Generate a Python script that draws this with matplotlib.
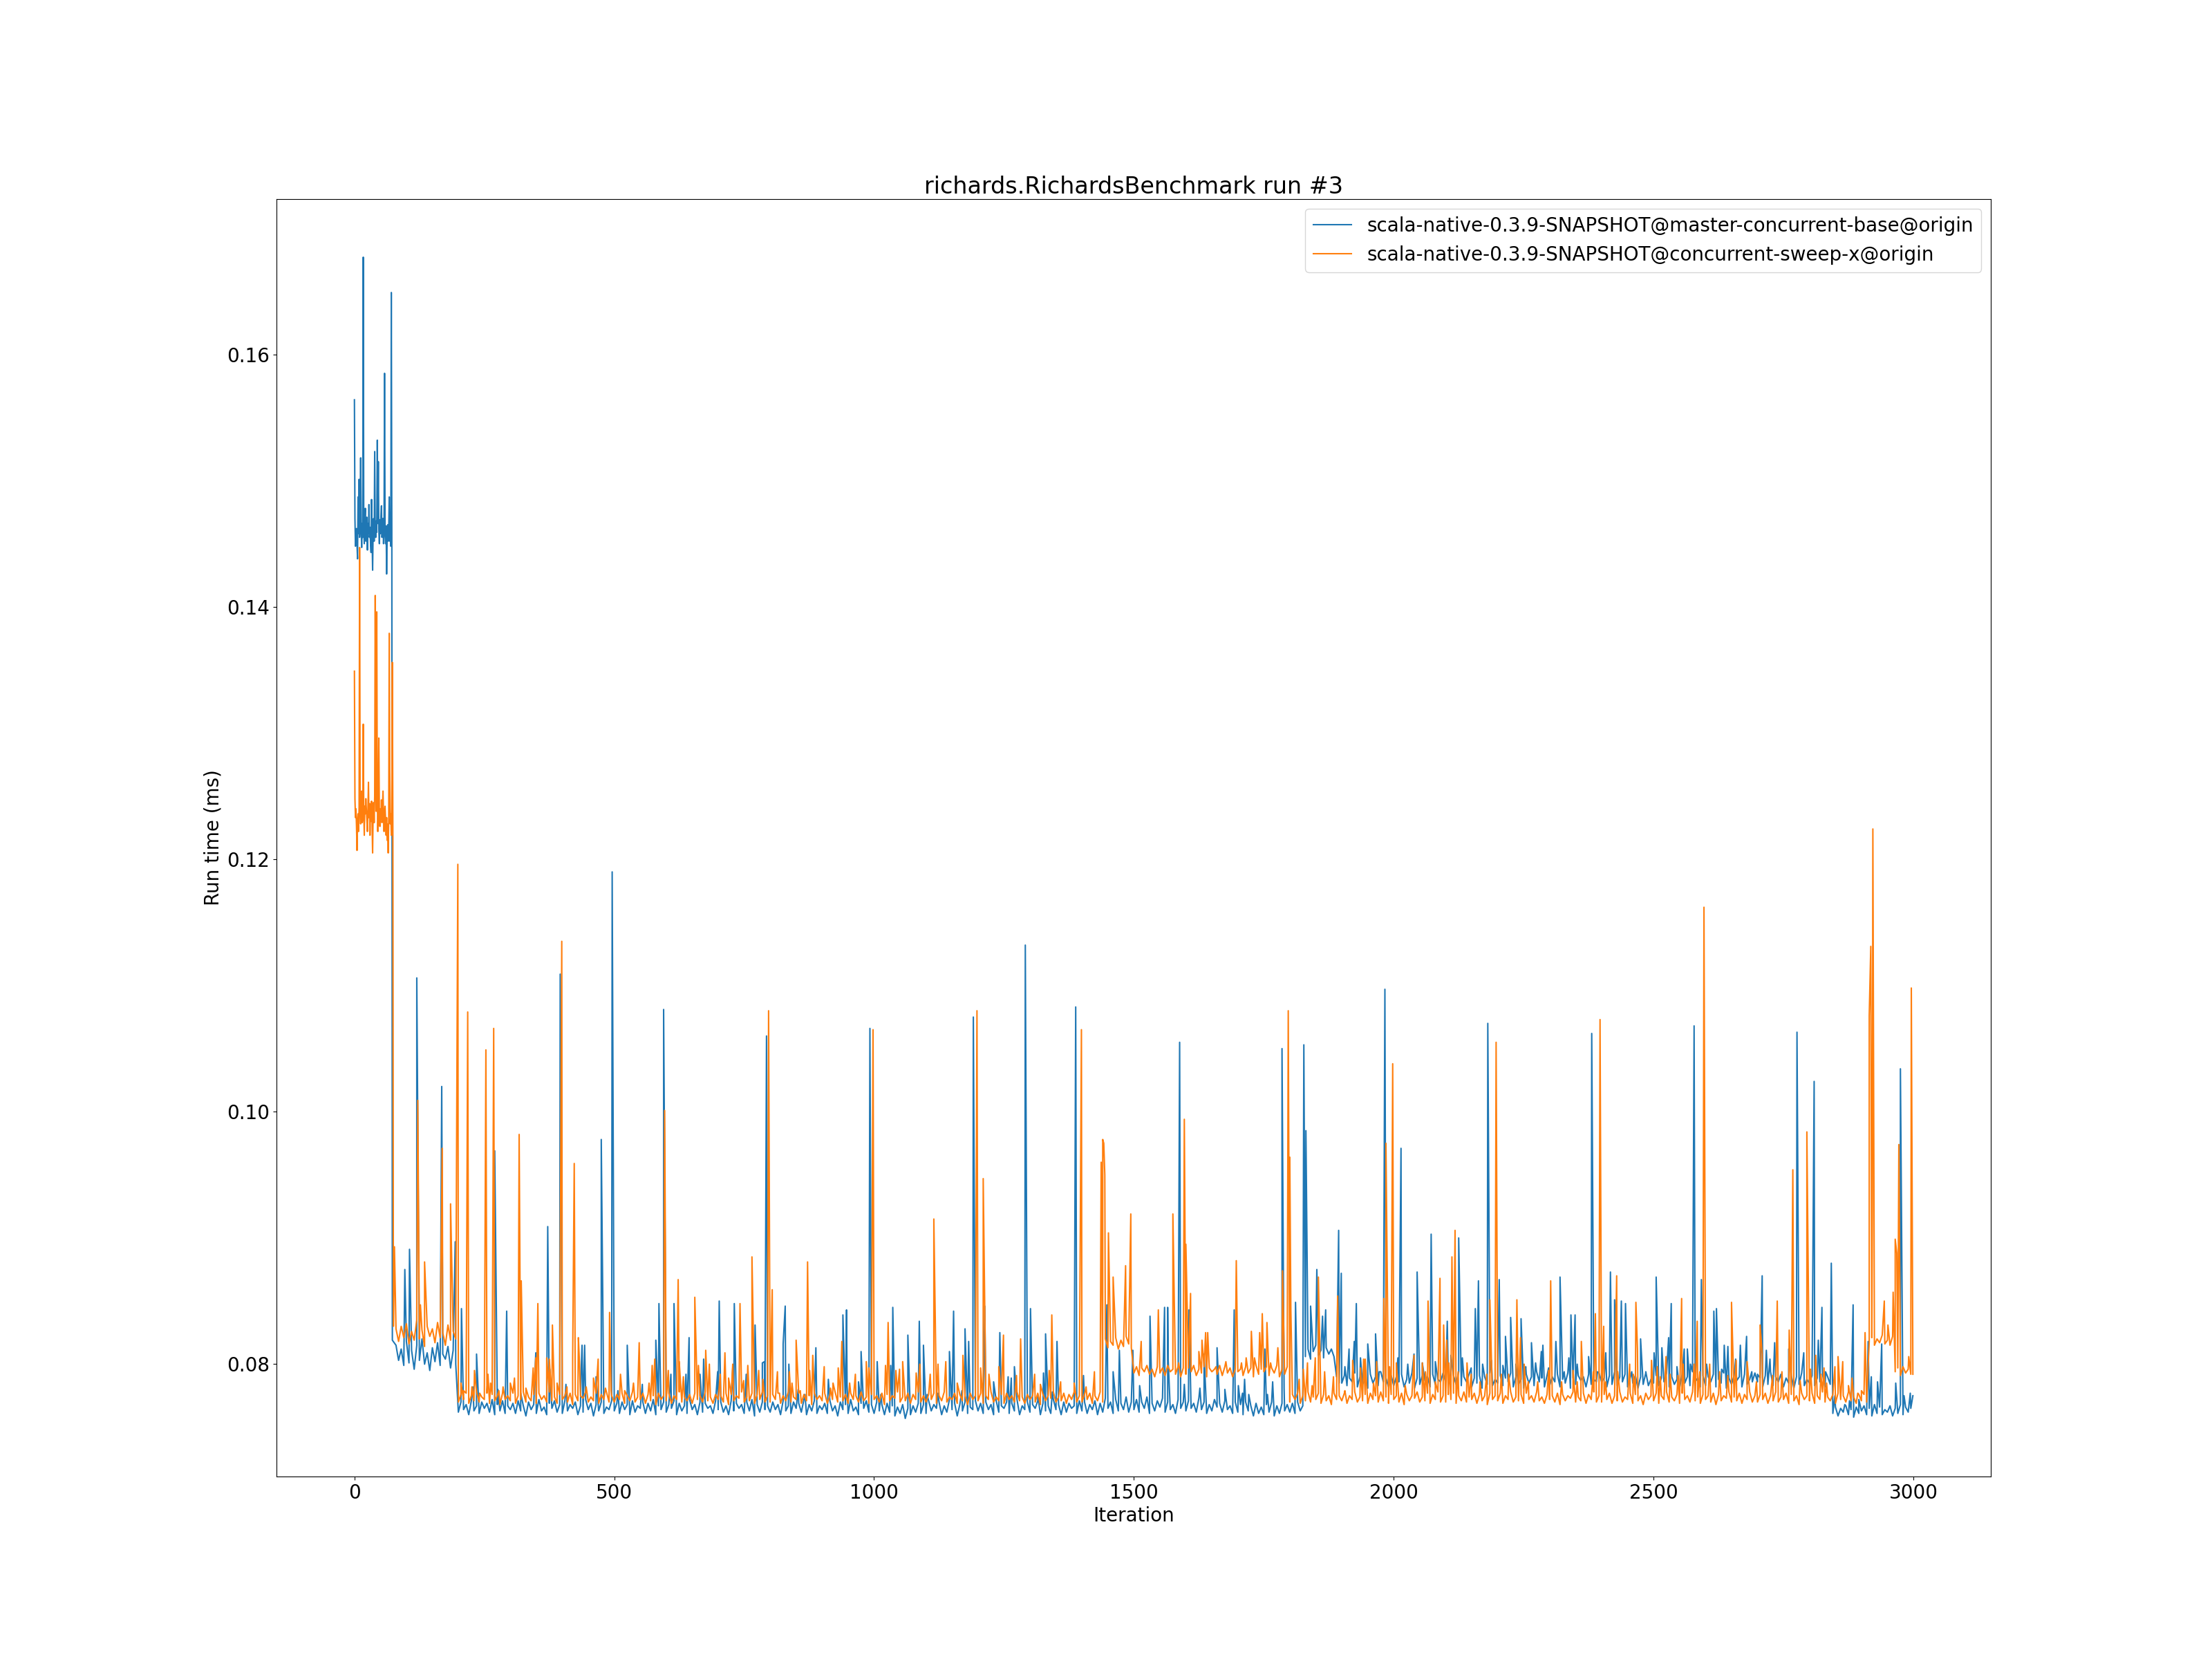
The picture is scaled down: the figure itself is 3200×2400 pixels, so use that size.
import numpy as np
import matplotlib
matplotlib.use("Agg")
import matplotlib.pyplot as plt


# ---- Data (run time in ms per iteration) ----

label_base = "scala-native-0.3.9-SNAPSHOT@master-concurrent-base@origin"
label_sweep = "scala-native-0.3.9-SNAPSHOT@concurrent-sweep-x@origin"

# warm-up phase, one value per iteration starting at 0
base_warm_ms = [
    0.1564, 0.1470, 0.1448, 0.1454, 0.1462, 0.1449, 0.1438, 0.1487, 0.1458, 0.1501,  # 0
    0.1455, 0.1470, 0.1518, 0.1462, 0.1447, 0.1466, 0.1455, 0.1677, 0.1460, 0.1450,  # 10
    0.1468, 0.1478, 0.1452, 0.1462, 0.1471, 0.1445, 0.1466, 0.1458, 0.1481, 0.1455,  # 20
    0.1463, 0.1450, 0.1443, 0.1485, 0.1457, 0.1429, 0.1460, 0.1470, 0.1452, 0.1523,  # 30
    0.1463, 0.1455, 0.1468, 0.1459, 0.1532, 0.1466, 0.1515, 0.1461, 0.1450, 0.1469,  # 40
    0.1458, 0.1472, 0.1480, 0.1455, 0.1462, 0.1470, 0.1450, 0.1462, 0.1585, 0.1458,  # 50
    0.1450, 0.1464, 0.1426, 0.1455, 0.1465, 0.1452, 0.1460, 0.1487, 0.1452, 0.1466,  # 60
    0.1448, 0.1649, 0.1458, 0.0819,                                                  # 70
]
sweep_warm_ms = [
    0.1349, 0.1248, 0.1233, 0.1240, 0.1226, 0.1207, 0.1231, 0.1236, 0.1222, 0.1241,  # 0
    0.1447, 0.1238, 0.1228, 0.1245, 0.1254, 0.1229, 0.1232, 0.1307, 0.1236, 0.1219,  # 10
    0.1242, 0.1236, 0.1248, 0.1240, 0.1231, 0.1222, 0.1239, 0.1261, 0.1233, 0.1244,  # 20
    0.1219, 0.1244, 0.1230, 0.1246, 0.1228, 0.1205, 0.1237, 0.1245, 0.1229, 0.1250,  # 30
    0.1409, 0.1293, 0.1238, 0.1396, 0.1250, 0.1222, 0.1243, 0.1296, 0.1235, 0.1226,  # 40
    0.1240, 0.1232, 0.1247, 0.1229, 0.1242, 0.1254, 0.1236, 0.1222, 0.1238, 0.1242,  # 50
    0.1230, 0.1219, 0.1233, 0.1215, 0.1228, 0.1205, 0.1231, 0.1379, 0.1270, 0.1228,  # 60
    0.1236, 0.1219, 0.1240, 0.1356, 0.1219, 0.0830,                                  # 70
]

# steady phase, one reading every 5 iterations starting at 80
steady_start = 80
steady_step = 5

base_steady_ms = [
    0.0815, 0.0803, 0.0812, 0.0799,
    0.0818, 0.0801, 0.0811, 0.0796, 0.0815, 0.0803, 0.0820, 0.0800, 0.0809, 0.0795,
    0.0813, 0.0802, 0.0817, 0.0799, 0.0808, 0.0804, 0.0814, 0.0797, 0.0811, 0.0800,  # 100
    0.0762, 0.0770, 0.0764, 0.0768, 0.0760, 0.0771, 0.0763, 0.0767, 0.0761, 0.0770,
    0.0765, 0.0769, 0.0762, 0.0772, 0.0760, 0.0768, 0.0763, 0.0771, 0.0761, 0.0767,  # 200
    0.0764, 0.0769, 0.0761, 0.0771, 0.0763, 0.0767, 0.0759, 0.0770, 0.0764, 0.0768,
    0.0761, 0.0772, 0.0763, 0.0766, 0.0760, 0.0769, 0.0765, 0.0771, 0.0762, 0.0768,  # 300
    0.0761, 0.0771, 0.0763, 0.0768, 0.0765, 0.0770, 0.0760, 0.0767, 0.0762, 0.0772,
    0.0764, 0.0769, 0.0759, 0.0768, 0.0763, 0.0770, 0.0761, 0.0766, 0.0764, 0.0771,  # 400
    0.0763, 0.0769, 0.0761, 0.0770, 0.0764, 0.0768, 0.0760, 0.0771, 0.0762, 0.0767,
    0.0765, 0.0770, 0.0761, 0.0769, 0.0763, 0.0772, 0.0760, 0.0767, 0.0764, 0.0770,  # 500
    0.0762, 0.0768, 0.0765, 0.0771, 0.0760, 0.0769, 0.0763, 0.0767, 0.0761, 0.0772,
    0.0764, 0.0768, 0.0760, 0.0770, 0.0762, 0.0769, 0.0765, 0.0767, 0.0761, 0.0771,  # 600
    0.0764, 0.0770, 0.0762, 0.0767, 0.0760, 0.0771, 0.0763, 0.0769, 0.0765, 0.0768,
    0.0761, 0.0770, 0.0763, 0.0772, 0.0759, 0.0768, 0.0762, 0.0770, 0.0764, 0.0767,  # 700
    0.0762, 0.0770, 0.0764, 0.0768, 0.0760, 0.0771, 0.0763, 0.0767, 0.0761, 0.0770,
    0.0765, 0.0769, 0.0762, 0.0772, 0.0760, 0.0768, 0.0763, 0.0771, 0.0761, 0.0767,  # 800
    0.0764, 0.0769, 0.0761, 0.0771, 0.0763, 0.0767, 0.0759, 0.0770, 0.0764, 0.0768,
    0.0761, 0.0772, 0.0763, 0.0766, 0.0760, 0.0769, 0.0765, 0.0771, 0.0762, 0.0768,  # 900
    0.0761, 0.0770, 0.0763, 0.0768, 0.0760, 0.0769, 0.0762, 0.0767, 0.0759, 0.0766,
    0.0761, 0.0768, 0.0757, 0.0765, 0.0760, 0.0767, 0.0762, 0.0769, 0.0761, 0.0768,  # 1000
    0.0761, 0.0771, 0.0763, 0.0768, 0.0765, 0.0770, 0.0760, 0.0767, 0.0762, 0.0772,
    0.0764, 0.0769, 0.0759, 0.0768, 0.0763, 0.0770, 0.0761, 0.0766, 0.0764, 0.0771,  # 1100
    0.0763, 0.0769, 0.0761, 0.0770, 0.0764, 0.0768, 0.0760, 0.0771, 0.0762, 0.0767,
    0.0765, 0.0770, 0.0761, 0.0769, 0.0763, 0.0772, 0.0760, 0.0767, 0.0764, 0.0770,  # 1200
    0.0762, 0.0768, 0.0765, 0.0771, 0.0760, 0.0769, 0.0763, 0.0767, 0.0761, 0.0772,
    0.0764, 0.0768, 0.0760, 0.0770, 0.0762, 0.0769, 0.0765, 0.0767, 0.0761, 0.0771,  # 1300
    0.0763, 0.0770, 0.0761, 0.0768, 0.0764, 0.0771, 0.0760, 0.0769, 0.0762, 0.0773,
    0.0765, 0.0770, 0.0761, 0.0772, 0.0763, 0.0769, 0.0764, 0.0774, 0.0762, 0.0770,  # 1400
    0.0764, 0.0772, 0.0762, 0.0770, 0.0765, 0.0774, 0.0761, 0.0769, 0.0763, 0.0771,
    0.0766, 0.0773, 0.0762, 0.0770, 0.0764, 0.0768, 0.0761, 0.0772, 0.0765, 0.0770,  # 1500
    0.0763, 0.0771, 0.0765, 0.0769, 0.0762, 0.0773, 0.0764, 0.0770, 0.0761, 0.0768,
    0.0763, 0.0772, 0.0766, 0.0769, 0.0762, 0.0771, 0.0764, 0.0767, 0.0761, 0.0770,  # 1600
    0.0762, 0.0768, 0.0760, 0.0770, 0.0763, 0.0767, 0.0759, 0.0769, 0.0761, 0.0766,
    0.0760, 0.0768, 0.0762, 0.0770, 0.0759, 0.0767, 0.0761, 0.0769, 0.0763, 0.0768,  # 1700
    0.0762, 0.0769, 0.0761, 0.0770, 0.0763, 0.0767, 0.0806, 0.0812, 0.0804, 0.0810,
    0.0815, 0.0807, 0.0811, 0.0805, 0.0813, 0.0808, 0.0812, 0.0806, 0.0790, 0.0785,  # 1800
    0.0785, 0.0791, 0.0783, 0.0789, 0.0786, 0.0793, 0.0782, 0.0790, 0.0784, 0.0788,
    0.0781, 0.0792, 0.0785, 0.0790, 0.0783, 0.0794, 0.0786, 0.0789, 0.0782, 0.0791,  # 1900
    0.0783, 0.0790, 0.0786, 0.0792, 0.0782, 0.0788, 0.0785, 0.0793, 0.0781, 0.0789,
    0.0784, 0.0791, 0.0787, 0.0790, 0.0782, 0.0792, 0.0784, 0.0788, 0.0786, 0.0793,  # 2000
    0.0786, 0.0789, 0.0782, 0.0791, 0.0784, 0.0794, 0.0783, 0.0790, 0.0786, 0.0792,
    0.0782, 0.0789, 0.0785, 0.0791, 0.0781, 0.0790, 0.0784, 0.0793, 0.0783, 0.0788,  # 2100
    0.0785, 0.0791, 0.0783, 0.0789, 0.0786, 0.0793, 0.0782, 0.0790, 0.0784, 0.0788,
    0.0781, 0.0792, 0.0785, 0.0790, 0.0783, 0.0794, 0.0786, 0.0789, 0.0782, 0.0791,  # 2200
    0.0783, 0.0790, 0.0786, 0.0792, 0.0782, 0.0788, 0.0785, 0.0793, 0.0781, 0.0789,
    0.0784, 0.0791, 0.0787, 0.0790, 0.0782, 0.0792, 0.0784, 0.0788, 0.0786, 0.0793,  # 2300
    0.0786, 0.0789, 0.0782, 0.0791, 0.0784, 0.0794, 0.0783, 0.0790, 0.0786, 0.0792,
    0.0782, 0.0789, 0.0785, 0.0791, 0.0781, 0.0790, 0.0784, 0.0793, 0.0783, 0.0788,  # 2400
    0.0785, 0.0791, 0.0783, 0.0789, 0.0786, 0.0793, 0.0782, 0.0790, 0.0784, 0.0788,
    0.0781, 0.0792, 0.0785, 0.0790, 0.0783, 0.0794, 0.0786, 0.0789, 0.0782, 0.0791,  # 2500
    0.0783, 0.0790, 0.0786, 0.0792, 0.0782, 0.0788, 0.0785, 0.0793, 0.0781, 0.0789,
    0.0784, 0.0791, 0.0787, 0.0790, 0.0782, 0.0792, 0.0784, 0.0788, 0.0786, 0.0793,  # 2600
    0.0786, 0.0789, 0.0782, 0.0791, 0.0784, 0.0794, 0.0783, 0.0790, 0.0786, 0.0792,
    0.0782, 0.0789, 0.0785, 0.0791, 0.0781, 0.0790, 0.0784, 0.0793, 0.0783, 0.0788,  # 2700
    0.0785, 0.0791, 0.0783, 0.0789, 0.0786, 0.0792, 0.0782, 0.0790, 0.0784, 0.0761,
    0.0766, 0.0759, 0.0765, 0.0762, 0.0767, 0.0760, 0.0764, 0.0758, 0.0766, 0.0761,  # 2800
    0.0763, 0.0767, 0.0760, 0.0765, 0.0759, 0.0768, 0.0761, 0.0766, 0.0760, 0.0764,
    0.0762, 0.0767, 0.0759, 0.0765, 0.0761, 0.0768, 0.0760, 0.0766, 0.0762, 0.0765,  # 2900
]

sweep_steady_ms = [
    0.0828, 0.0818, 0.0830, 0.0821,
    0.0832, 0.0816, 0.0826, 0.0819, 0.0835, 0.0820, 0.0827, 0.0814, 0.0830, 0.0822,
    0.0828, 0.0817, 0.0833, 0.0821, 0.0825, 0.0815, 0.0831, 0.0819, 0.0826, 0.0820,  # 100
    0.0770, 0.0776, 0.0772, 0.0777, 0.0769, 0.0775, 0.0771, 0.0778, 0.0770, 0.0774,
    0.0772, 0.0777, 0.0769, 0.0776, 0.0771, 0.0775, 0.0768, 0.0777, 0.0772, 0.0775,  # 200
    0.0771, 0.0777, 0.0769, 0.0775, 0.0772, 0.0778, 0.0770, 0.0774, 0.0771, 0.0776,
    0.0769, 0.0777, 0.0772, 0.0775, 0.0770, 0.0778, 0.0771, 0.0774, 0.0769, 0.0776,  # 300
    0.0772, 0.0775, 0.0770, 0.0777, 0.0768, 0.0776, 0.0771, 0.0775, 0.0773, 0.0778,
    0.0770, 0.0774, 0.0771, 0.0777, 0.0769, 0.0776, 0.0772, 0.0778, 0.0770, 0.0775,  # 400
    0.0770, 0.0776, 0.0772, 0.0777, 0.0769, 0.0775, 0.0771, 0.0778, 0.0770, 0.0774,
    0.0772, 0.0777, 0.0769, 0.0776, 0.0771, 0.0775, 0.0768, 0.0777, 0.0772, 0.0775,  # 500
    0.0771, 0.0777, 0.0769, 0.0775, 0.0772, 0.0778, 0.0770, 0.0774, 0.0771, 0.0776,
    0.0769, 0.0777, 0.0772, 0.0775, 0.0770, 0.0778, 0.0771, 0.0774, 0.0769, 0.0776,  # 600
    0.0772, 0.0775, 0.0770, 0.0777, 0.0768, 0.0776, 0.0771, 0.0775, 0.0773, 0.0778,
    0.0770, 0.0774, 0.0771, 0.0777, 0.0769, 0.0776, 0.0772, 0.0778, 0.0770, 0.0775,  # 700
    0.0770, 0.0776, 0.0772, 0.0777, 0.0769, 0.0775, 0.0771, 0.0778, 0.0770, 0.0774,
    0.0772, 0.0777, 0.0769, 0.0776, 0.0771, 0.0775, 0.0768, 0.0777, 0.0772, 0.0775,  # 800
    0.0771, 0.0777, 0.0769, 0.0775, 0.0772, 0.0778, 0.0770, 0.0774, 0.0771, 0.0776,
    0.0769, 0.0777, 0.0772, 0.0775, 0.0770, 0.0778, 0.0771, 0.0774, 0.0769, 0.0776,  # 900
    0.0772, 0.0775, 0.0770, 0.0777, 0.0768, 0.0776, 0.0771, 0.0775, 0.0773, 0.0778,
    0.0770, 0.0774, 0.0771, 0.0777, 0.0769, 0.0776, 0.0772, 0.0778, 0.0770, 0.0775,  # 1000
    0.0770, 0.0776, 0.0772, 0.0777, 0.0769, 0.0775, 0.0771, 0.0778, 0.0770, 0.0774,
    0.0772, 0.0777, 0.0769, 0.0776, 0.0771, 0.0775, 0.0768, 0.0777, 0.0772, 0.0775,  # 1100
    0.0771, 0.0777, 0.0769, 0.0775, 0.0772, 0.0778, 0.0770, 0.0774, 0.0771, 0.0776,
    0.0769, 0.0777, 0.0772, 0.0775, 0.0770, 0.0778, 0.0771, 0.0774, 0.0769, 0.0776,  # 1200
    0.0772, 0.0775, 0.0770, 0.0777, 0.0768, 0.0776, 0.0771, 0.0775, 0.0773, 0.0778,
    0.0770, 0.0774, 0.0771, 0.0777, 0.0769, 0.0776, 0.0772, 0.0778, 0.0770, 0.0775,  # 1300
    0.0770, 0.0776, 0.0772, 0.0777, 0.0769, 0.0775, 0.0771, 0.0778, 0.0770, 0.0820,
    0.0813, 0.0818, 0.0815, 0.0821, 0.0812, 0.0819, 0.0814, 0.0822, 0.0816, 0.0813,  # 1400
    0.0793, 0.0798, 0.0791, 0.0797, 0.0794, 0.0799, 0.0792, 0.0796, 0.0790, 0.0798,
    0.0793, 0.0797, 0.0791, 0.0799, 0.0794, 0.0796, 0.0792, 0.0798, 0.0790, 0.0797,  # 1500
    0.0792, 0.0797, 0.0794, 0.0799, 0.0791, 0.0796, 0.0793, 0.0798, 0.0790, 0.0797,
    0.0794, 0.0796, 0.0792, 0.0799, 0.0791, 0.0798, 0.0793, 0.0797, 0.0790, 0.0796,  # 1600
    0.0794, 0.0796, 0.0791, 0.0798, 0.0793, 0.0797, 0.0790, 0.0799, 0.0792, 0.0796,
    0.0794, 0.0798, 0.0791, 0.0797, 0.0793, 0.0799, 0.0790, 0.0796, 0.0792, 0.0798,  # 1700
    0.0770, 0.0776, 0.0772, 0.0777, 0.0769, 0.0775, 0.0771, 0.0778, 0.0770, 0.0774,
    0.0772, 0.0777, 0.0769, 0.0776, 0.0771, 0.0775, 0.0768, 0.0777, 0.0772, 0.0775,  # 1800
    0.0771, 0.0777, 0.0769, 0.0775, 0.0772, 0.0778, 0.0770, 0.0774, 0.0771, 0.0776,
    0.0769, 0.0777, 0.0772, 0.0775, 0.0770, 0.0778, 0.0771, 0.0774, 0.0769, 0.0776,  # 1900
    0.0772, 0.0775, 0.0770, 0.0777, 0.0768, 0.0776, 0.0771, 0.0775, 0.0773, 0.0778,
    0.0770, 0.0774, 0.0771, 0.0777, 0.0769, 0.0776, 0.0772, 0.0778, 0.0770, 0.0775,  # 2000
    0.0770, 0.0776, 0.0772, 0.0777, 0.0769, 0.0775, 0.0771, 0.0778, 0.0770, 0.0774,
    0.0772, 0.0777, 0.0769, 0.0776, 0.0771, 0.0775, 0.0768, 0.0777, 0.0772, 0.0775,  # 2100
    0.0771, 0.0777, 0.0769, 0.0775, 0.0772, 0.0778, 0.0770, 0.0774, 0.0771, 0.0776,
    0.0769, 0.0777, 0.0772, 0.0775, 0.0770, 0.0778, 0.0771, 0.0774, 0.0769, 0.0776,  # 2200
    0.0772, 0.0775, 0.0770, 0.0777, 0.0768, 0.0776, 0.0771, 0.0775, 0.0773, 0.0778,
    0.0770, 0.0774, 0.0771, 0.0777, 0.0769, 0.0776, 0.0772, 0.0778, 0.0770, 0.0775,  # 2300
    0.0770, 0.0776, 0.0772, 0.0777, 0.0769, 0.0775, 0.0771, 0.0778, 0.0770, 0.0774,
    0.0772, 0.0777, 0.0769, 0.0776, 0.0771, 0.0775, 0.0768, 0.0777, 0.0772, 0.0775,  # 2400
    0.0771, 0.0777, 0.0769, 0.0775, 0.0772, 0.0778, 0.0770, 0.0774, 0.0771, 0.0776,
    0.0769, 0.0777, 0.0772, 0.0775, 0.0770, 0.0778, 0.0771, 0.0774, 0.0769, 0.0776,  # 2500
    0.0772, 0.0775, 0.0770, 0.0777, 0.0768, 0.0776, 0.0771, 0.0775, 0.0773, 0.0778,
    0.0770, 0.0774, 0.0771, 0.0777, 0.0769, 0.0776, 0.0772, 0.0778, 0.0770, 0.0775,  # 2600
    0.0770, 0.0776, 0.0772, 0.0777, 0.0769, 0.0775, 0.0771, 0.0778, 0.0770, 0.0774,
    0.0772, 0.0777, 0.0769, 0.0776, 0.0771, 0.0775, 0.0768, 0.0777, 0.0772, 0.0775,  # 2700
    0.0771, 0.0777, 0.0769, 0.0775, 0.0772, 0.0778, 0.0770, 0.0774, 0.0771, 0.0776,
    0.0769, 0.0777, 0.0772, 0.0775, 0.0770, 0.0778, 0.0771, 0.0774, 0.0769, 0.0776,  # 2800
    0.0771, 0.0776, 0.0770, 0.0818, 0.0821, 0.0815, 0.0820, 0.0817, 0.0823, 0.0816,
    0.0819, 0.0815, 0.0822, 0.0794, 0.0797, 0.0791, 0.0798, 0.0793, 0.0796, 0.0792,  # 2900
]

# tall single-iteration spikes (iteration, ms)
base_spike_iter = [97, 106, 120, 168, 194, 206, 235, 270, 293, 372, 396, 438, 443, 475,
                   496, 525, 554, 580, 586, 595, 615, 644, 665, 702, 731, 771, 793, 825,
                   829, 888, 940, 947, 975, 992, 1036, 1065, 1087, 1095, 1145, 1153, 1175,
                   1182, 1191, 1213, 1242, 1291, 1301, 1330, 1352, 1388, 1448, 1498, 1531,
                   1559, 1565, 1588, 1606, 1635, 1660, 1693, 1752, 1785, 1811, 1827, 1831,
                   1840, 1852, 1863, 1869, 1894, 1899, 1914, 1924, 1928, 1950, 1965, 1983,
                   2014, 2045, 2072, 2103, 2125, 2157, 2163, 2181, 2203, 2215, 2225, 2245,
                   2265, 2287, 2320, 2341, 2349, 2381, 2417, 2425, 2438, 2446, 2475, 2505,
                   2516, 2529, 2534, 2565, 2578, 2592, 2616, 2621, 2636, 2667, 2679, 2709,
                   2717, 2733, 2776, 2809, 2824, 2842, 2884, 2913, 2939, 2975, 2999]
base_spike_ms = [0.0875, 0.0891, 0.1106, 0.1020, 0.0897, 0.0844, 0.0808, 0.0969, 0.0842,
                 0.0909, 0.1109, 0.0815, 0.0815, 0.0978, 0.1190, 0.0815, 0.0784, 0.0819,
                 0.0848, 0.1081, 0.0848, 0.0821, 0.0792, 0.0850, 0.0848, 0.0831, 0.1060,
                 0.0816, 0.0846, 0.0813, 0.0839, 0.0843, 0.0810, 0.1066, 0.0845, 0.0823,
                 0.0834, 0.0815, 0.0810, 0.0842, 0.0828, 0.0818, 0.1075, 0.0846, 0.0825,
                 0.1132, 0.0844, 0.0824, 0.0818, 0.1083, 0.0847, 0.0811, 0.0838, 0.0845,
                 0.0845, 0.1055, 0.0843, 0.0808, 0.0813, 0.0843, 0.0812, 0.1050, 0.0849,
                 0.1053, 0.0985, 0.0846, 0.0875, 0.0838, 0.0843, 0.0906, 0.0872, 0.0812,
                 0.0818, 0.0848, 0.0816, 0.0824, 0.1097, 0.0971, 0.0873, 0.0903, 0.0834,
                 0.0900, 0.0844, 0.0866, 0.1070, 0.0867, 0.0822, 0.0837, 0.0836, 0.0817,
                 0.0815, 0.0869, 0.0839, 0.0839, 0.1062, 0.0873, 0.0851, 0.0850, 0.0848,
                 0.0820, 0.0869, 0.0813, 0.0821, 0.0848, 0.0812, 0.1068, 0.0867, 0.0842,
                 0.0844, 0.0815, 0.0815, 0.0822, 0.0870, 0.0811, 0.0817, 0.1063, 0.1024,
                 0.0845, 0.0880, 0.0847, 0.0818, 0.0816, 0.1034, 0.0775]

sweep_spike_iter = [77, 122, 127, 135, 169, 185, 199, 218, 231, 253, 268, 317, 321, 353,
                    381, 399, 423, 431, 491, 548, 573, 597, 623, 655, 676, 713, 742, 765,
                    797, 804, 850, 872, 938, 998, 1027, 1115, 1198, 1210, 1249, 1282, 1342,
                    1399, 1437, 1440, 1442, 1444, 1451, 1460, 1484, 1494, 1514, 1547, 1575,
                    1597, 1600, 1609, 1631, 1638, 1642, 1697, 1726, 1742, 1747, 1756, 1777,
                    1786, 1797, 1800, 1802, 1855, 1892, 1945, 1981, 1985, 1998, 2066, 2089,
                    2096, 2112, 2118, 2185, 2197, 2237, 2244, 2302, 2361, 2388, 2397, 2404,
                    2429, 2466, 2554, 2584, 2597, 2650, 2705, 2738, 2761, 2768, 2795, 2855,
                    2864, 2907, 2915, 2918, 2921, 2922, 2944, 2951, 2961, 2965, 2968, 2972,
                    2991, 2996, 2999]
sweep_spike_ms = [0.0893, 0.1009, 0.0847, 0.0881, 0.0971, 0.0927, 0.1196, 0.1079, 0.0795,
                  0.1049, 0.1066, 0.0982, 0.0866, 0.0848, 0.0831, 0.1135, 0.0959, 0.0821,
                  0.0841, 0.0817, 0.0799, 0.1001, 0.0867, 0.0853, 0.0811, 0.0809, 0.0848,
                  0.0885, 0.1080, 0.0859, 0.0819, 0.0881, 0.0818, 0.1065, 0.0833, 0.0915,
                  0.1080, 0.0947, 0.0823, 0.0820, 0.0839, 0.1065, 0.0960, 0.0978, 0.0975,
                  0.0950, 0.0904, 0.0869, 0.0878, 0.0919, 0.0818, 0.0843, 0.0919, 0.0994,
                  0.0895, 0.0856, 0.0819, 0.0825, 0.0825, 0.0882, 0.0826, 0.0825, 0.0840,
                  0.0833, 0.0813, 0.0874, 0.1080, 0.0964, 0.0843, 0.0869, 0.0854, 0.0804,
                  0.0852, 0.0975, 0.1038, 0.0850, 0.0868, 0.0831, 0.0885, 0.0906, 0.0851,
                  0.1055, 0.0851, 0.0821, 0.0866, 0.0818, 0.0840, 0.1073, 0.0830, 0.0870,
                  0.0849, 0.0852, 0.0834, 0.1162, 0.0849, 0.0831, 0.0850, 0.0827, 0.0954,
                  0.0984, 0.0806, 0.0802, 0.0825, 0.1076, 0.1131, 0.0922, 0.1224, 0.0850,
                  0.0831, 0.0857, 0.0899, 0.0888, 0.0974, 0.0806, 0.1098, 0.0792]

# small blips just above the noise band (iteration, ms)
base_blip_iter = [228, 276, 320, 349, 376, 407, 436, 465, 507, 609,
                  638, 672, 699, 728, 754, 785, 789, 836, 854, 867,
                  912, 948, 970, 1006, 1013, 1032, 1102, 1123, 1169, 1230,
                  1258, 1264, 1270, 1315, 1326, 1343, 1403, 1460, 1472, 1511,
                  1566, 1597, 1627, 1675, 1701, 1709, 1713, 1721, 1757, 1767,
                  1789, 1906, 1936, 1972, 2008, 2027, 2039, 2055, 2080, 2110,
                  2132, 2149, 2171, 2188, 2210, 2235, 2254, 2273, 2284, 2298,
                  2312, 2328, 2337, 2353, 2375, 2392, 2408, 2428, 2458, 2485,
                  2501, 2545, 2559, 2571, 2602, 2631, 2643, 2658, 2689, 2700,
                  2724, 2760, 2789, 2817, 2831, 2849, 2868, 2877, 2895, 2919,
                  2931, 2966, 2982, 2994]
base_blip_ms = [0.0782, 0.0780, 0.0777, 0.0809, 0.0796, 0.0784, 0.0791, 0.0790, 0.0779, 0.0792,
                0.0792, 0.0804, 0.0794, 0.0797, 0.0792, 0.0801, 0.0802, 0.0800, 0.0780, 0.0776,
                0.0788, 0.0784, 0.0786, 0.0802, 0.0776, 0.0799, 0.0776, 0.0777, 0.0779, 0.0786,
                0.0790, 0.0789, 0.0798, 0.0776, 0.0793, 0.0778, 0.0791, 0.0794, 0.0811, 0.0783,
                0.0803, 0.0784, 0.0781, 0.0780, 0.0783, 0.0777, 0.0788, 0.0776, 0.0776, 0.0786,
                0.0781, 0.0798, 0.0805, 0.0794, 0.0805, 0.0800, 0.0808, 0.0801, 0.0802, 0.0807,
                0.0805, 0.0797, 0.0800, 0.0803, 0.0799, 0.0800, 0.0798, 0.0801, 0.0810, 0.0797,
                0.0818, 0.0794, 0.0805, 0.0800, 0.0806, 0.0794, 0.0809, 0.0801, 0.0794, 0.0794,
                0.0809, 0.0798, 0.0812, 0.0800, 0.0800, 0.0796, 0.0814, 0.0804, 0.0794, 0.0792,
                0.0804, 0.0812, 0.0809, 0.0819, 0.0794, 0.0775, 0.0768, 0.0771, 0.0772, 0.0790,
                0.0786, 0.0785, 0.0775, 0.0777]

sweep_blip_iter = [205, 210, 226, 241, 257, 262, 278, 286, 300, 308,
                   330, 344, 349, 370, 375, 390, 409, 420, 433, 446,
                   460, 469, 483, 494, 512, 520, 537, 567, 578, 604,
                   625, 633, 662, 683, 704, 720, 728, 749, 757, 778,
                   786, 814, 818, 837, 842, 858, 876, 882, 904, 916,
                   921, 931, 953, 964, 985, 990, 1022, 1042, 1049, 1055,
                   1081, 1088, 1108, 1123, 1138, 1160, 1171, 1205, 1221, 1240,
                   1274, 1309, 1320, 1337, 1359, 1385, 1408, 1424, 1586, 1625,
                   1658, 1677, 1707, 1716, 1732, 1763, 1818, 1826, 1834, 1843,
                   1849, 1867, 1884, 1906, 1921, 1936, 1942, 1961, 1967, 1992,
                   2005, 2022, 2039, 2055, 2061, 2080, 2102, 2106, 2124, 2141,
                   2149, 2166, 2179, 2207, 2221, 2251, 2259, 2277, 2298, 2323,
                   2345, 2353, 2384, 2408, 2431, 2454, 2461, 2469, 2496, 2507,
                   2513, 2524, 2532, 2547, 2557, 2578, 2589, 2608, 2627, 2643,
                   2659, 2680, 2698, 2709, 2729, 2747, 2782, 2802, 2812, 2822,
                   2828, 2833, 2849, 2875, 2882, 2893, 2900]
sweep_blip_ms = [0.0785, 0.0779, 0.0782, 0.0777, 0.0792, 0.0785, 0.0779, 0.0782, 0.0785, 0.0789,
                 0.0781, 0.0797, 0.0805, 0.0805, 0.0804, 0.0785, 0.0782, 0.0805, 0.0802, 0.0782,
                 0.0789, 0.0804, 0.0781, 0.0779, 0.0792, 0.0779, 0.0785, 0.0785, 0.0804, 0.0795,
                 0.0802, 0.0790, 0.0799, 0.0800, 0.0792, 0.0789, 0.0800, 0.0787, 0.0799, 0.0795,
                 0.0788, 0.0794, 0.0777, 0.0794, 0.0785, 0.0779, 0.0795, 0.0807, 0.0798, 0.0781,
                 0.0785, 0.0797, 0.0785, 0.0792, 0.0802, 0.0797, 0.0799, 0.0795, 0.0796, 0.0802,
                 0.0793, 0.0800, 0.0792, 0.0800, 0.0802, 0.0785, 0.0807, 0.0797, 0.0792, 0.0798,
                 0.0791, 0.0792, 0.0784, 0.0795, 0.0786, 0.0785, 0.0782, 0.0794, 0.0801, 0.0810,
                 0.0798, 0.0802, 0.0801, 0.0805, 0.0805, 0.0801, 0.0788, 0.0796, 0.0801, 0.0783,
                 0.0805, 0.0794, 0.0790, 0.0779, 0.0803, 0.0797, 0.0804, 0.0785, 0.0802, 0.0798,
                 0.0801, 0.0783, 0.0807, 0.0801, 0.0794, 0.0786, 0.0819, 0.0801, 0.0794, 0.0801,
                 0.0792, 0.0786, 0.0792, 0.0792, 0.0792, 0.0800, 0.0786, 0.0786, 0.0795, 0.0786,
                 0.0795, 0.0786, 0.0794, 0.0786, 0.0794, 0.0800, 0.0792, 0.0812, 0.0803, 0.0798,
                 0.0790, 0.0806, 0.0792, 0.0791, 0.0800, 0.0800, 0.0794, 0.0800, 0.0794, 0.0791,
                 0.0803, 0.0802, 0.0786, 0.0808, 0.0791, 0.0794, 0.0787, 0.0796, 0.0807, 0.0792,
                 0.0797, 0.0785, 0.0798, 0.0783, 0.0789, 0.0777, 0.0779]


# ---- Assemble each run into one ordered series ----

def assemble(warm_ms, steady_ms, extra_iter, extra_ms):
    warm_iter = np.arange(len(warm_ms))
    steady_iter = steady_start + steady_step * np.arange(len(steady_ms))
    it = np.concatenate([warm_iter, steady_iter, extra_iter])
    ms = np.concatenate([warm_ms, steady_ms, extra_ms])
    order = np.argsort(it, kind="stable")
    return it[order], ms[order]


base_it, base_ms = assemble(base_warm_ms, base_steady_ms,
                            base_spike_iter + base_blip_iter,
                            base_spike_ms + base_blip_ms)
sweep_it, sweep_ms = assemble(sweep_warm_ms, sweep_steady_ms,
                              sweep_spike_iter + sweep_blip_iter,
                              sweep_spike_ms + sweep_blip_ms)


# ---- Plot ----

# big canvas at 100 dpi with large text, as the original was drawn
plt.rcParams['font.size'] = 20

fig, ax = plt.subplots(figsize=(32, 24))
ax.plot(base_it, base_ms, color="C0", label=label_base)
ax.plot(sweep_it, sweep_ms, color="C1", label=label_sweep)
ax.set_title("richards.RichardsBenchmark run #3")
ax.set_xlabel("Iteration")
ax.set_ylabel("Run time (ms)")
ax.legend(loc="upper right")
plt.savefig("out.png", dpi=100)
